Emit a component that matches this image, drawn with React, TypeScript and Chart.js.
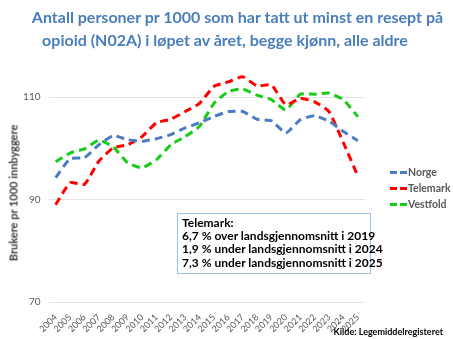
import React, { useEffect, useRef } from "react";
import { Chart, registerables } from "chart.js";

Chart.register(...registerables);

const years = ["2004","2005","2006","2007","2008","2009","2010","2011","2012","2013","2014","2015","2016","2017","2018","2019","2020","2021","2022","2023","2024","2025"];
const norge = [94.3, 98.0, 98.2, 100.7, 102.5, 101.7, 101.4, 101.9, 102.7, 104.0, 105.0, 106.2, 107.2, 107.2, 105.7, 105.4, 103.0, 105.6, 106.4, 105.3, 103.3, 101.5];
const telemark = [89.0, 93.3, 93.0, 97.5, 100.1, 100.7, 102.3, 105.0, 105.7, 107.2, 108.8, 112.1, 113.0, 114.0, 112.2, 112.4, 108.5, 109.8, 109.1, 107.2, 101.1, 94.6];
const vestfold = [97.4, 99.1, 99.9, 101.6, 100.3, 97.2, 96.2, 97.8, 100.7, 102.3, 104.3, 108.8, 111.1, 111.6, 110.4, 109.5, 107.5, 110.6, 110.6, 110.8, 109.5, 106.2];
const yTicks = [70, 90, 110];
const seriesNames = ["Norge", "Telemark", "Vestfold"];
const seriesColors = ["#4A7CC4", "#FF0000", "#16CC16"];
const titleLines = ["Antall personer pr 1000 som har tatt ut minst en resept på", "opioid (N02A) i løpet av året, begge kjønn, alle aldre"];
const noteLines = ["Telemark:", "6,7 % over landsgjennomsnitt i 2019", "1,9 % under landsgjennomsnitt i 2024", "7,3 % under landsgjennomsnitt i 2025"];
const yTitle = "Brukere pr 1000 innbyggere";
const source = "Kilde: Legemiddelregisteret";

const FONT = "Lato, 'Open Sans', sans-serif";

export default function App() {
  const ref = useRef<HTMLCanvasElement | null>(null);
  useEffect(() => {
    if (!ref.current) return;
    const values = [norge, telemark, vestfold];
    const chart = new Chart(ref.current, {
      type: "line",
      data: {
        labels: years,
        datasets: seriesNames.map((n, i) => ({
          label: n,
          data: values[i],
          borderColor: seriesColors[i],
          backgroundColor: seriesColors[i],
          borderWidth: 3,
          borderDash: [8, 5],
          pointRadius: 0,
          tension: 0.15,
          fill: false,
        })),
      },
      options: {
        animation: false,
        responsive: false,
        devicePixelRatio: 1,
        layout: { padding: { left: 0, right: 88, top: 46, bottom: 0 } },
        plugins: { legend: { display: false }, title: { display: false }, tooltip: { enabled: false } },
        scales: {
          x: {
            offset: true,
            grid: { display: false },
            border: { display: false },
            ticks: { minRotation: 45, maxRotation: 45, autoSkip: false, color: "#595959", font: { family: FONT, size: 9 }, padding: 2 },
            afterFit: (s: any) => { s.height = 37; },
          },
          y: {
            min: 70,
            max: 120,
            grid: { color: "#E3E3E3", drawTicks: false },
            border: { display: false },
            ticks: { color: "#595959", font: { family: FONT, size: 10 }, padding: 8 },
            afterBuildTicks: (s: any) => { s.ticks = yTicks.map((v) => ({ value: v })); },
            afterFit: (s: any) => { s.width = 48.5; },
          },
        },
      },
    });
    return () => chart.destroy();
  }, []);

  return (
    <div style={{ position: "fixed", left: 0, top: 0, width: 453, height: 339, background: "#fff", fontFamily: FONT, overflow: "hidden" }}>
      <canvas ref={ref} width={453} height={339} style={{ position: "absolute", left: 0, top: 0 }} />
      <div style={{ position: "absolute", left: 0, top: 5, width: 475, textAlign: "center", color: "#4A7EBB", fontWeight: 700, fontSize: 16, lineHeight: "23px", whiteSpace: "nowrap" }}>{titleLines[0]}</div>
      <div style={{ position: "absolute", left: 0, top: 28, width: 450, textAlign: "center", color: "#4A7EBB", fontWeight: 700, fontSize: 16, lineHeight: "23px", whiteSpace: "nowrap" }}>{titleLines[1]}</div>
      <div style={{ position: "absolute", left: 13, top: 193, width: 0, height: 0 }}>
        <div style={{ position: "absolute", left: 0, top: 0, transform: "translate(-50%, -50%) rotate(-90deg)", whiteSpace: "nowrap", fontWeight: 700, fontSize: 11, color: "#404040" }}>{yTitle}</div>
      </div>
      {seriesNames.map((n, i) => (
        <div key={n} style={{ position: "absolute", left: 390, top: 164 + i * 16, height: 16, display: "flex", alignItems: "center", color: "#595959", fontWeight: 700, fontSize: 10.5 }}>
          <span style={{ display: "inline-block", width: 7, height: 3, background: seriesColors[i], marginRight: 3 }} />
          <span style={{ display: "inline-block", width: 7, height: 3, background: seriesColors[i], marginRight: 1 }} />
          <span>{n}</span>
        </div>
      ))}
      <div style={{ position: "absolute", left: 177, top: 213, width: 188, height: 57, border: "1px solid #9DC3E6", background: "#fff", padding: "2px 0 0 4px", boxSizing: "content-box" }}>
        {noteLines.map((t) => (
          <div key={t} style={{ fontWeight: 700, fontSize: 12, lineHeight: "13.2px", color: "#000", whiteSpace: "nowrap" }}>{t}</div>
        ))}
      </div>
      <div style={{ position: "absolute", right: 10, top: 326, fontWeight: 700, fontSize: 9, color: "#000", whiteSpace: "nowrap" }}>{source}</div>
    </div>
  );
}
